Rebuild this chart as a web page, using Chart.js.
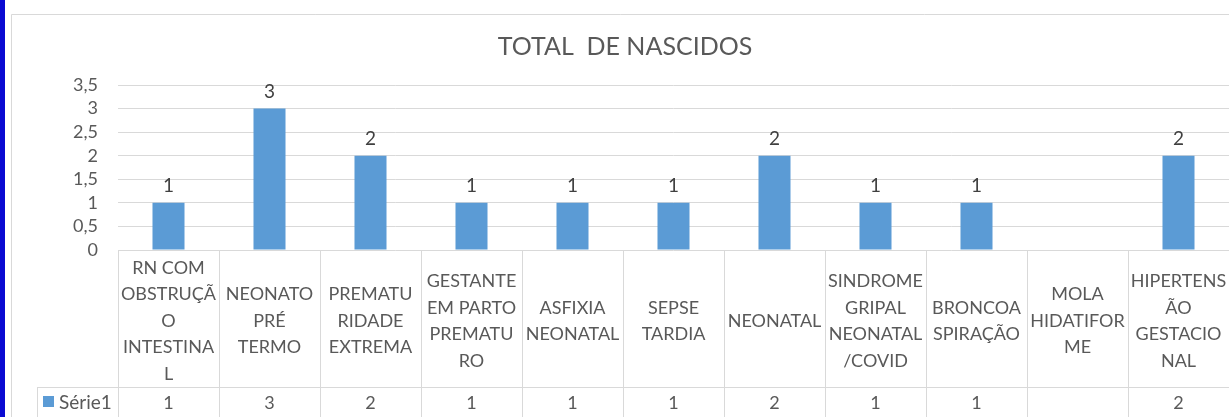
<!DOCTYPE html>
<html>
<head>
<meta charset="utf-8">
<script src="https://cdn.jsdelivr.net/npm/chart.js@4"></script>
<style>
  html,body{margin:0;padding:0;background:#fff;}
  canvas{display:block;}
</style>
</head>
<body>
<canvas id="chartCanvas" width="1229" height="417"></canvas>
<script>
//data
const categories=[
    ["RN COM","OBSTRUÇÃ","O","INTESTINA","L"],
    ["NEONATO","PRÉ","TERMO"],
    ["PREMATU","RIDADE","EXTREMA"],
    ["GESTANTE","EM PARTO","PREMATU","RO"],
    ["ASFIXIA","NEONATAL"],
    ["SEPSE","TARDIA"],
    ["NEONATAL"],
    ["SINDROME","GRIPAL","NEONATAL","/COVID"],
    ["BRONCOA","SPIRAÇÃO"],
    ["MOLA","HIDATIFOR","ME"],
    ["HIPERTENS","ÃO","GESTACIO","NAL"]
];
const serie1=[1,3,2,1,1,1,2,1,1,null,2];
const seriesName="Série1";
const chartTitle="TOTAL  DE NASCIDOS";
const yTicks=[0,0.5,1,1.5,2,2.5,3,3.5];

const FONT="Lato, 'Open Sans', sans-serif";
const gridColor="#d9d9d9";
const textColor="#595959";
const barColor="#5b9bd5";

//frame, data labels and the data table under the plot
const tablePlugin={
    id:"tablePlugin",
    beforeDraw(chart){
        const ctx=chart.ctx;
        ctx.save();
        ctx.fillStyle="#fff";
        ctx.fillRect(0,0,chart.width,chart.height);
        //blue strip on the left
        ctx.fillStyle="#0a0ad2";
        ctx.fillRect(0,0,5,chart.height);
        //chart border
        ctx.strokeStyle=gridColor;
        ctx.lineWidth=1;
        ctx.beginPath();
        ctx.moveTo(11.5,chart.height);
        ctx.lineTo(11.5,14.5);
        ctx.lineTo(chart.width,14.5);
        ctx.stroke();
        ctx.restore();
    },
    afterDraw(chart){
        const ctx=chart.ctx;
        const x=chart.scales.x;
        const area=chart.chartArea;
        const colW=(area.right-area.left)/categories.length;
        const rowTop=area.bottom+137;
        ctx.save();
        ctx.strokeStyle=gridColor;
        ctx.lineWidth=1;
        ctx.beginPath();
        for(let k=0;k<=categories.length;k++){
            const px=Math.round(area.left+k*colW)+0.5;
            ctx.moveTo(px,area.bottom);
            ctx.lineTo(px,chart.height);
        }
        ctx.moveTo(37,rowTop+0.5);
        ctx.lineTo(chart.width,rowTop+0.5);
        ctx.moveTo(37.5,rowTop);
        ctx.lineTo(37.5,chart.height);
        ctx.stroke();

        ctx.fillStyle=textColor;
        ctx.font="18px "+FONT;
        ctx.textAlign="center";
        ctx.textBaseline="middle";
        const lineH=26.5;
        const mid=area.bottom+71;
        categories.forEach((lines,i)=>{
            const cx=x.getPixelForValue(i);
            const start=mid-(lines.length-1)*lineH/2;
            lines.forEach((t,j)=>ctx.fillText(t,cx,start+j*lineH));
            if(serie1[i]!==null){
                ctx.fillText(String(serie1[i]),cx,rowTop+16);
            }
        });
        //legend key
        ctx.fillStyle=barColor;
        ctx.fillRect(43,396,11,11);
        ctx.fillStyle=textColor;
        ctx.textAlign="left";
        ctx.font="19px "+FONT;
        ctx.fillText(seriesName,59,rowTop+16);

        //value labels above the bars
        ctx.fillStyle="#404040";
        ctx.font="19px "+FONT;
        ctx.textAlign="center";
        ctx.textBaseline="middle";
        chart.getDatasetMeta(0).data.forEach((bar,i)=>{
            if(serie1[i]===null) return;
            ctx.fillText(String(serie1[i]),bar.x,bar.y-17);
        });
        ctx.restore();
    }
};

const config={
    type:"bar",
    data:{
        labels:categories.map(l=>l.join(" ")),
        datasets:[{
            label:seriesName,
            data:serie1,
            backgroundColor:barColor,
            categoryPercentage:1,
            barPercentage:0.317
        }]
    },
    options:{
        responsive:false,
        animation:false,
        layout:{padding:{left:21,top:0,right:0,bottom:167}},
        plugins:{
            legend:{display:false},
            tooltip:{enabled:false},
            title:{
                display:true,
                text:chartTitle,
                color:textColor,
                font:{family:FONT,size:25,weight:"normal"},
                padding:{top:32,bottom:23}
            }
        },
        scales:{
            x:{
                ticks:{display:false},
                grid:{display:false},
                border:{display:false},
                afterFit(scale){scale.height=0;}
            },
            y:{
                min:0,
                max:3.5,
                afterBuildTicks(scale){scale.ticks=yTicks.map(v=>({value:v}));},
                ticks:{
                    autoSkip:false,
                    color:textColor,
                    font:{family:FONT,size:18},
                    padding:20,
                    callback:v=>String(v).replace(".",",")
                },
                grid:{color:gridColor,drawTicks:false},
                border:{display:false},
                afterFit(scale){scale.width=97;}
            }
        }
    },
    plugins:[tablePlugin]
};

const myChart=new Chart(document.getElementById("chartCanvas"),config);
</script>
</body>
</html>
